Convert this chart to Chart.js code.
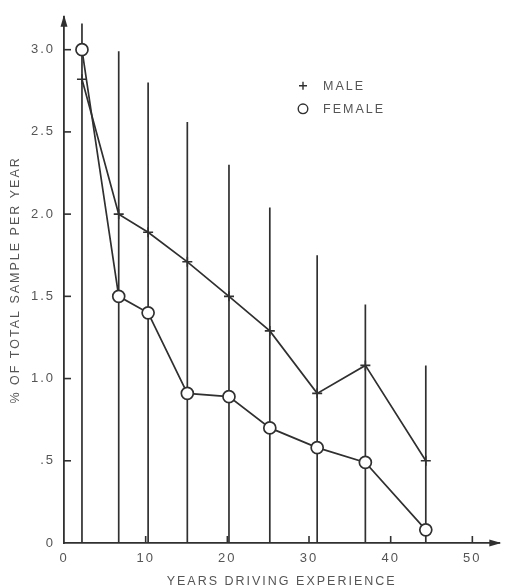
<!DOCTYPE html>
<html>
<head>
<meta charset="utf-8">
<script src="https://cdn.jsdelivr.net/npm/chart.js@4/dist/chart.umd.min.js"></script>
<style>
  html, body { margin: 0; padding: 0; background: #fff; }
  #wrap { width: 507px; height: 588px; }
</style>
</head>
<body>
<div id="wrap"><canvas id="c"></canvas></div>
<script>
// Years of driving experience (group midpoints)
const years = [2.2, 6.7, 10.3, 15.1, 20.2, 25.2, 31.0, 36.9, 44.3];
// % of total sample per year
const male = [2.82, 2.00, 1.89, 1.71, 1.50, 1.29, 0.91, 1.08, 0.50];
const female = [3.00, 1.50, 1.40, 0.91, 0.89, 0.70, 0.58, 0.49, 0.08];
// Upper end of the vertical range line at each group
const rangeTop = [3.16, 2.99, 2.80, 2.56, 2.30, 2.04, 1.75, 1.45, 1.08];

const yTicks = [0, 0.5, 1, 1.5, 2, 2.5, 3];
const yTickLabels = ['0', '.5', '1.0', '1.5', '2.0', '2.5', '3.0'];
const xTicks = [0, 10, 20, 30, 40, 50];
const xTickLabels = ['0', '10', '20', '30', '40', '50'];

const seriesNames = ['MALE', 'FEMALE'];

const INK = '#303030';
const TEXT = '#555555';
const FONT = 'Liberation Sans, Arial, sans-serif';

// vertical range lines: one segment per group, separated by gaps
const rangeData = [];
years.forEach((x, i) => {
  rangeData.push({ x: x, y: 0 }, { x: x, y: rangeTop[i] }, { x: x, y: null });
});

const pts = (vals) => years.map((x, i) => ({ x: x, y: vals[i] }));

// letter spacing for the lettering, plus inward ticks, arrows and the key
const decor = {
  id: 'decor',
  beforeDraw(chart) {
    chart.ctx.letterSpacing = '2px';
  },
  afterDraw(chart) {
    const ctx = chart.ctx;
    const xs = chart.scales.x, ys = chart.scales.y;
    const area = chart.chartArea;
    ctx.save();
    ctx.strokeStyle = INK;
    ctx.fillStyle = INK;
    ctx.lineWidth = 1.6;
    // y ticks pointing into the plot
    yTicks.forEach(v => {
      if (v === 0) return;
      const y = ys.getPixelForValue(v);
      ctx.beginPath();
      ctx.moveTo(area.left, y);
      ctx.lineTo(area.left + 7, y);
      ctx.stroke();
    });
    // x ticks pointing up
    xTicks.forEach(v => {
      if (v === 0) return;
      const x = xs.getPixelForValue(v);
      ctx.beginPath();
      ctx.moveTo(x, area.bottom);
      ctx.lineTo(x, area.bottom - 7);
      ctx.stroke();
    });
    // arrow heads
    ctx.beginPath();
    ctx.moveTo(area.left, area.top - 2);
    ctx.lineTo(area.left - 3.5, area.top + 10);
    ctx.lineTo(area.left + 3.5, area.top + 10);
    ctx.closePath();
    ctx.fill();
    ctx.beginPath();
    ctx.moveTo(area.right + 2, area.bottom);
    ctx.lineTo(area.right - 10, area.bottom - 3.5);
    ctx.lineTo(area.right - 10, area.bottom + 3.5);
    ctx.closePath();
    ctx.fill();

    // key
    const kx = area.left + 239, ky = area.top + 69, gap = 23;
    ctx.font = '12.5px ' + FONT;
    ctx.letterSpacing = '2px';
    ctx.textBaseline = 'middle';
    ctx.textAlign = 'left';
    ctx.lineWidth = 1.4;
    // plus
    ctx.strokeStyle = INK;
    ctx.beginPath();
    ctx.moveTo(kx - 4, ky); ctx.lineTo(kx + 4, ky);
    ctx.moveTo(kx, ky - 4); ctx.lineTo(kx, ky + 4);
    ctx.stroke();
    // circle
    ctx.beginPath();
    ctx.arc(kx, ky + gap, 4.8, 0, Math.PI * 2);
    ctx.stroke();
    ctx.fillStyle = TEXT;
    ctx.fillText(seriesNames[0], kx + 20, ky + 1);
    ctx.fillText(seriesNames[1], kx + 20, ky + gap + 1);
    ctx.restore();
  }
};

new Chart(document.getElementById('c'), {
  type: 'scatter',
  data: {
    datasets: [
      {
        label: seriesNames[0],
        data: pts(male),
        showLine: true,
        borderColor: INK,
        borderWidth: 1.7,
        pointStyle: 'cross',
        pointRadius: 5,
        pointBorderWidth: 1.6,
        pointBorderColor: INK,
        order: 1
      },
      {
        label: seriesNames[1],
        data: pts(female),
        showLine: true,
        borderColor: INK,
        borderWidth: 1.7,
        pointStyle: 'circle',
        pointRadius: 6,
        pointBorderWidth: 1.7,
        pointBorderColor: INK,
        pointBackgroundColor: '#fff',
        order: 0
      },
      {
        label: 'range',
        data: rangeData,
        showLine: true,
        spanGaps: false,
        borderColor: INK,
        borderWidth: 1.7,
        pointRadius: 0,
        order: 5
      }
    ]
  },
  options: {
    responsive: true,
    maintainAspectRatio: false,
    animation: false,
    events: [],
    layout: { padding: { top: 14, right: 2, left: 0, bottom: 0 } },
    plugins: { legend: { display: false }, tooltip: { enabled: false } },
    scales: {
      x: {
        type: 'linear',
        min: 0,
        max: 53.3,
        afterFit: s => { s.height = 45; },
        afterBuildTicks: s => { s.ticks = xTicks.map(v => ({ value: v })); },
        grid: { display: false, drawTicks: false },
        border: { display: true, color: INK, width: 1.8 },
        ticks: {
          padding: 8,
          color: TEXT,
          font: { family: FONT, size: 13 },
          maxRotation: 0,
          callback: (v) => { const i = xTicks.indexOf(v); return i >= 0 ? xTickLabels[i] : ''; }
        },
        title: {
          display: true,
          text: 'YEARS DRIVING EXPERIENCE',
          color: TEXT,
          font: { family: FONT, size: 12.5 },
          padding: { top: 0, bottom: -1 }
        }
      },
      y: {
        type: 'linear',
        min: 0,
        max: 3.2,
        afterFit: s => { s.width = 64; },
        afterBuildTicks: s => { s.ticks = yTicks.map(v => ({ value: v })); },
        grid: { display: false, drawTicks: false },
        border: { display: true, color: INK, width: 1.8 },
        ticks: {
          padding: 9,
          color: TEXT,
          font: { family: FONT, size: 13 },
          callback: (v) => { const i = yTicks.indexOf(v); return i >= 0 ? yTickLabels[i] : ''; }
        },
        title: {
          display: true,
          text: '% OF TOTAL SAMPLE PER YEAR',
          color: TEXT,
          font: { family: FONT, size: 12.5 },
          padding: { top: 8, bottom: 0 }
        }
      }
    }
  },
  plugins: [decor]
});
</script>
</body>
</html>
